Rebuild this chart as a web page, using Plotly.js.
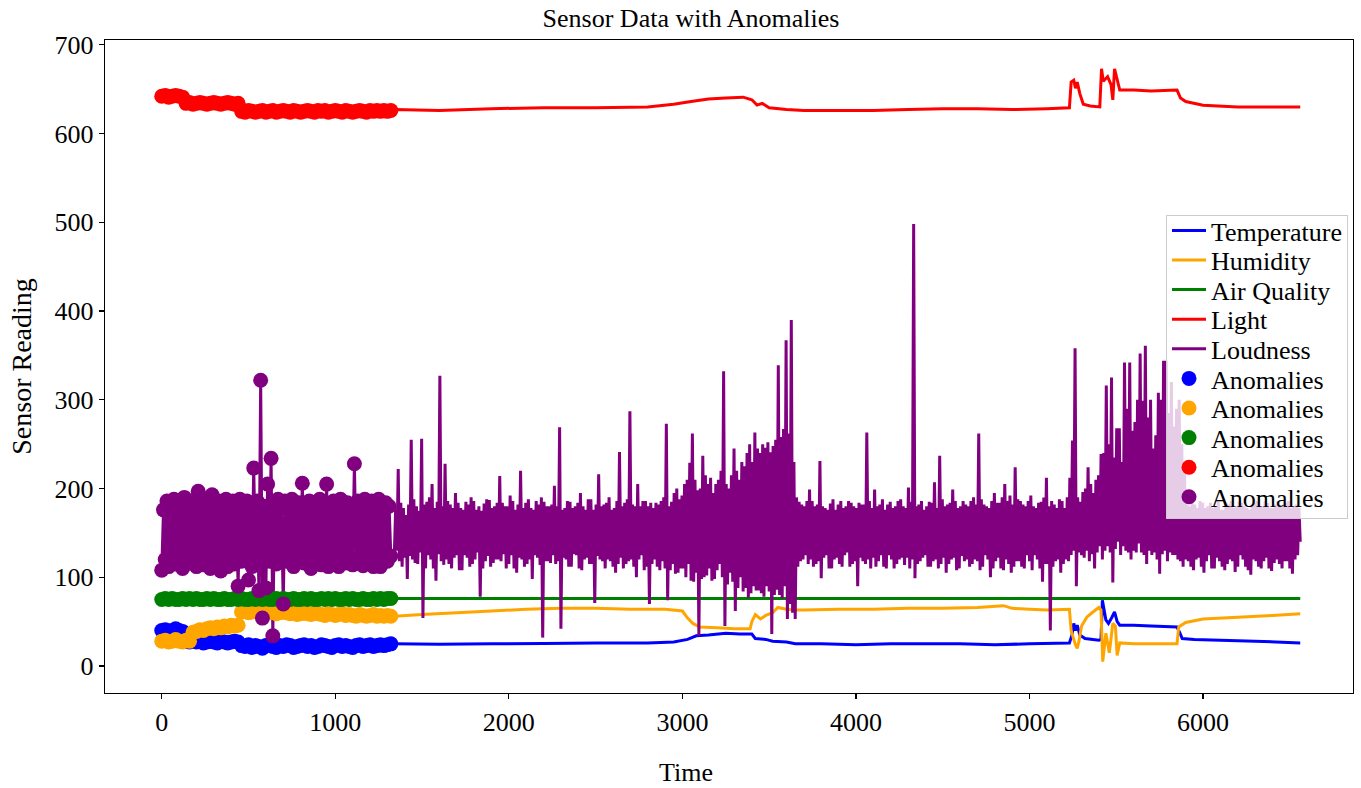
<!DOCTYPE html>
<html><head><meta charset="utf-8">
<script src="https://cdn.plot.ly/plotly-3.0.1.min.js"></script>
<style>html,body{margin:0;padding:0;background:#fff;}#plot{width:1361px;height:788px;}</style>
</head><body><div id="plot"></div>
<script>
// ---- time grids (time index of the sensor log) ----
const earlyCount = 67;          // samples 0..1320, every 20
const earlyStep = 20;
const loudEarlyStep = 10;       // loudness samples 0..1320, every 10
const loudLateStart = 1340;     // loudness samples after the anomaly window
const loudLateStep = 7.5;

// ---- values inside the anomaly window (t = 0..1320) ----
const tempEarly = [40,41,39,40,42,40,39,
  28,27,29,27,28,26,27,28,27,26,28,27,26,27,28,27,
  23,22,24,21,23,22,20,23,24,22,21,23,22,24,23,21,22,23,24,22,23,21,22,24,23,22,21,23,24,22,23,22,21,23,24,22,23,24,22,23,24,23,24,25];
const humEarly = [28,29,27,28,30,28,27,29,28,
  38,39,41,40,42,43,42,44,43,45,44,46,45,46,
  61,62,60,61,62,60,59,61,60,61,59,60,61,60,59,60,58,59,60,59,58,60,59,58,57,59,58,57,58,59,57,58,57,56,58,57,56,57,58,56,57,56,57,56];
const airEarly = [75,76,75,76,75,75,76,75,76,75,76,75,75,76,75,76,75,75,76,75,75,76,75,76,75,75,76,75,76,75,76,75,75,76,75,76,75,75,76,75,75,76,75,76,75,75,76,75,76,75,76,75,75,76,75,76,75,75,76,75,75,76,75,76,75,76,76];
const lightEarly = [642,643,641,642,643,642,641,
  634,635,633,634,635,634,633,634,635,634,633,634,635,634,633,634,
  625,624,626,625,624,625,626,624,625,626,624,625,626,625,624,626,625,624,625,626,625,624,626,625,626,624,625,626,625,624,626,625,624,625,626,625,624,626,625,626,625,626,625,626];
const loudEarly = [
  108,176,120,186,112,180,125,188,115,178,122,184,110,190,128,176,116,186,120,182,
  112,197,126,180,114,188,122,178,110,193,118,184,124,186,107,176,120,188,112,182,
  126,186,115,178,90,188,118,180,122,186,97,184,112,223,120,186,85,322,54,180,
  88,205,118,234,34,182,115,188,122,178,70,186,118,180,125,188,112,176,120,184,
  128,206,116,180,122,186,110,178,125,184,118,188,114,180,124,205,112,178,120,186,
  126,182,112,188,122,176,116,184,124,180,114,228,120,186,118,178,113,188,125,182,
  118,186,112,178,126,188,112,180,122,184,118,180,124];

// ---- values after the anomaly window ----
const tempLateT = [1340,1600,1900,2200,2500,2800,2950,3030,3080,3150,3250,3330,3400,3420,3480,3520,3600,3650,3800,4000,4200,4400,4600,4800,5000,5230,5245,5255,5265,5275,5290,5320,5400,5412,5420,5440,5455,5475,5490,5505,5520,5600,5700,5850,5865,5880,5950,6100,6300,6560];
const tempLateV = [25,24.5,25,25.5,26,26,27,30,34,35,37,36,36,31,30,28,27,25,25,24,25,25,25,24,25,26,35,48,40,46,35,31,29,30,74,52,48,55,61,50,46,46,45,44,38,31,30,29,28,26];
const humLateT = [1340,1500,1700,1900,2100,2300,2500,2700,2900,3000,3030,3060,3100,3200,3300,3390,3400,3420,3450,3480,3520,3550,3600,3650,3700,3900,4100,4300,4500,4700,4850,4900,5000,5100,5230,5240,5255,5265,5275,5285,5300,5330,5360,5400,5412,5422,5440,5460,5480,5495,5505,5520,5600,5700,5850,5860,5900,6000,6200,6400,6560];
const humLateV = [56,58,60,62,64,65,65,64,64,62,54,48,44,43,42,42,50,58,53,57,60,66,64,63,63,64,64,65,65,66,68,65,64,63,64,40,30,24,20,28,45,55,60,66,63,5,37,15,48,45,12,26,25,25,25,44,49,53,55,57,59];
const airLateT = [1340,2000,3000,4000,5000,6000,6560];
const airLateV = [76,76,76,76,76,76,76];
const lightLateT = [1340,1600,1900,2200,2500,2800,2950,3050,3150,3250,3350,3400,3430,3460,3500,3600,3700,3900,4100,4300,4500,4700,4900,5100,5230,5240,5255,5265,5275,5290,5310,5350,5405,5415,5425,5440,5450,5470,5480,5490,5520,5600,5700,5850,5870,5900,6000,6200,6400,6560];
const lightLateV = [627,626,628,629,629,630,633,636,639,640,641,638,632,634,629,627,626,626,626,627,628,628,627,628,629,658,660,651,658,645,633,631,630,673,659,662,664,655,638,673,649,649,648,649,640,636,632,630,630,630];
const loudLate = [
  125,176,130,222,118,184,112,178,122,170,98,182,124,255,120,188,116,180,115,175,128,256,54,182,110,185,125,190,120,205,110,178,96,185,126,327,118,180,114,228,
  120,186,115,182,110,178,122,195,125,184,108,178,108,176,125,185,122,182,112,190,115,186,120,176,128,180,78,175,110,183,118,188,124,187,112,178,116,180,120,184,
  120,214,118,184,126,180,110,180,115,192,125,186,110,176,105,182,122,220,120,178,112,184,115,188,120,178,98,176,125,186,122,182,114,190,32,185,118,180,118,180,
  116,182,125,203,115,180,118,269,42,176,122,178,120,186,112,185,112,178,126,180,125,184,110,195,108,180,120,176,122,188,115,188,115,176,71,182,124,216,120,180,
  118,182,110,184,120,190,118,176,112,178,105,186,115,241,122,180,110,184,115,188,118,287,120,182,112,180,100,205,120,180,125,186,108,186,112,180,70,184,115,178,
  120,184,112,182,108,186,118,190,110,273,74,180,108,185,115,195,104,200,105,188,110,192,110,205,100,210,115,229,96,262,95,210,105,198,34,200,98,237,100,215,
  102,205,110,212,96,195,98,205,108,210,115,220,100,332,45,205,92,200,105,215,95,245,62,220,88,210,100,230,84,225,88,240,77,250,82,230,90,263,85,245,
  85,240,82,250,78,246,90,252,84,241,36,248,80,255,86,339,80,258,76,267,90,367,53,262,70,390,60,230,53,190,112,185,118,182,120,180,125,186,115,199,
  120,186,112,180,115,182,118,231,99,180,122,178,125,176,110,183,110,188,120,176,122,182,115,186,112,178,125,180,128,186,112,184,115,180,118,178,90,184,122,182,
  118,182,115,263,120,186,110,178,122,199,112,180,118,182,125,188,112,176,110,182,125,185,120,178,110,180,115,186,120,188,122,180,114,178,122,201,110,185,120,498,
  99,180,115,182,118,186,122,176,125,180,112,185,112,184,118,207,120,178,110,237,115,188,122,180,105,182,115,184,120,199,122,186,108,178,110,180,124,186,118,182,
  120,180,112,186,115,190,120,182,118,262,108,188,112,182,125,180,120,178,100,186,110,195,118,184,122,184,110,190,108,205,120,186,115,192,105,182,112,224,118,188,
  118,186,112,182,110,180,125,186,118,192,108,180,125,178,120,184,110,185,95,190,115,212,115,180,40,186,112,182,118,178,120,188,105,186,115,178,120,190,118,212,
  125,254,130,358,90,190,128,185,125,196,122,200,130,224,118,205,126,195,110,210,128,215,135,239,120,240,130,316,135,250,128,325,94,235,132,268,140,268,125,230,
  135,342,130,290,128,342,120,265,130,275,128,300,138,352,128,299,125,361,115,280,130,300,125,245,128,260,120,308,104,300,126,344,130,344,118,285,128,320,125,270,
  125,290,120,300,118,250,112,230,120,182,118,180,112,186,108,182,120,178,122,186,112,184,105,178,118,180,125,184,110,178,110,180,122,186,118,176,112,176,108,184,
  115,182,120,186,118,178,106,180,112,185,125,184,120,180,112,178,108,176,103,182,120,184,118,186,112,180,110,180,118,186,122,184,110,178,107,178,116,182,120,186,
  115,180,110,182,118,184,118,186,110,178,104,180,120,182,125,178,140];

const seriesNames = ['Temperature','Humidity','Air Quality','Light','Loudness'];
const anomalyLabel = 'Anomalies';

// ---- build ----
const tEarly = Array.from({length: earlyCount}, (_, i) => i * earlyStep);
const tLoudEarly = Array.from({length: loudEarly.length}, (_, i) => i * loudEarlyStep);
const tLoudLate = Array.from({length: loudLate.length}, (_, i) => loudLateStart + i * loudLateStep);

const colors = ['#0000ff', '#ffa500', '#008000', '#ff0000', '#800080'];
const earlyT = [tEarly, tEarly, tEarly, tEarly, tLoudEarly];
const early = [tempEarly, humEarly, airEarly, lightEarly, loudEarly];
const lateT = [tempLateT, humLateT, airLateT, lightLateT, tLoudLate];
const lateV = [tempLateV, humLateV, airLateV, lightLateV, loudLate];

const FONT = '"Liberation Serif", "Times New Roman", Times, serif';
const traces = [];
for (let k = 0; k < 5; k++) {
  traces.push({
    type: 'scatter', mode: 'lines', name: seriesNames[k],
    x: earlyT[k].concat(lateT[k]), y: early[k].concat(lateV[k]),
    line: {color: colors[k], width: 3, simplify: false}, hoverinfo: 'skip'
  });
}
for (let k = 0; k < 5; k++) {
  traces.push({
    type: 'scatter', mode: 'markers', name: anomalyLabel,
    x: earlyT[k], y: early[k],
    marker: {color: colors[k], size: 15}, hoverinfo: 'skip'
  });
}

const axisCommon = {
  showgrid: false, zeroline: false, showline: true, mirror: true,
  linecolor: '#000', linewidth: 1.3, ticks: 'outside', ticklen: 5,
  tickwidth: 1.2, tickcolor: '#000',
  tickfont: {family: FONT, size: 26, color: '#000'}
};

const layout = {
  width: 1361, height: 788,
  margin: {l: 105, r: 8, t: 40, b: 95},
  paper_bgcolor: '#fff', plot_bgcolor: '#fff',
  font: {family: FONT, color: '#000'},
  title: {text: 'Sensor Data with Anomalies', font: {family: FONT, size: 26, color: '#000'},
    xref: 'container', yref: 'container', x: 691/1361, xanchor: 'center', y: 1 - 18/788, yanchor: 'middle'},
  xaxis: Object.assign({}, axisCommon, {range: [-327, 6864], tickvals: [0,1000,2000,3000,4000,5000,6000]}),
  yaxis: Object.assign({}, axisCommon, {range: [-30.4, 705.4], tickvals: [0,100,200,300,400,500,600,700],
    title: {text: 'Sensor Reading', font: {family: FONT, size: 28, color: '#000'}, standoff: 14}}),
  annotations: [{text: 'Time', xref: 'paper', yref: 'paper', x: (686-105)/1248, y: (693-772)/653,
    xanchor: 'center', yanchor: 'middle', showarrow: false, font: {family: FONT, size: 26, color: '#000'}}],
  showlegend: true,
  legend: {x: 0.996, y: 0.732, xanchor: 'right', yanchor: 'top', bgcolor: 'rgba(255,255,255,0.8)',
    bordercolor: '#cccccc', borderwidth: 1, font: {family: FONT, size: 26, color: '#000'},
    itemwidth: 34, traceorder: 'normal'}
};

const gd = document.getElementById('plot');
Plotly.newPlot(gd, traces, layout, {staticPlot: true, displayModeBar: false}).then(function () {
  try {
    const items = gd.querySelectorAll('g.legend g.traces');
    const step = 29.6;
    const ys = [];
    items.forEach(function (el) {
      const m = /translate\(\s*([-\d.e]+)[ ,]+([-\d.e]+)\s*\)/.exec(el.getAttribute('transform') || '');
      ys.push(m ? [parseFloat(m[1]), parseFloat(m[2])] : null);
    });
    if (ys.length > 1 && ys[0]) {
      items.forEach(function (el, i) {
        if (!ys[i]) return;
        el.setAttribute('transform', 'translate(' + ys[i][0] + ',' + (ys[0][1] - 9 + i * step) + ')');
      });
      const bg = gd.querySelector('g.legend rect.bg');
      if (bg) bg.setAttribute('height', 303);
    }
  } catch (e) {}
});
</script>
</body></html>
